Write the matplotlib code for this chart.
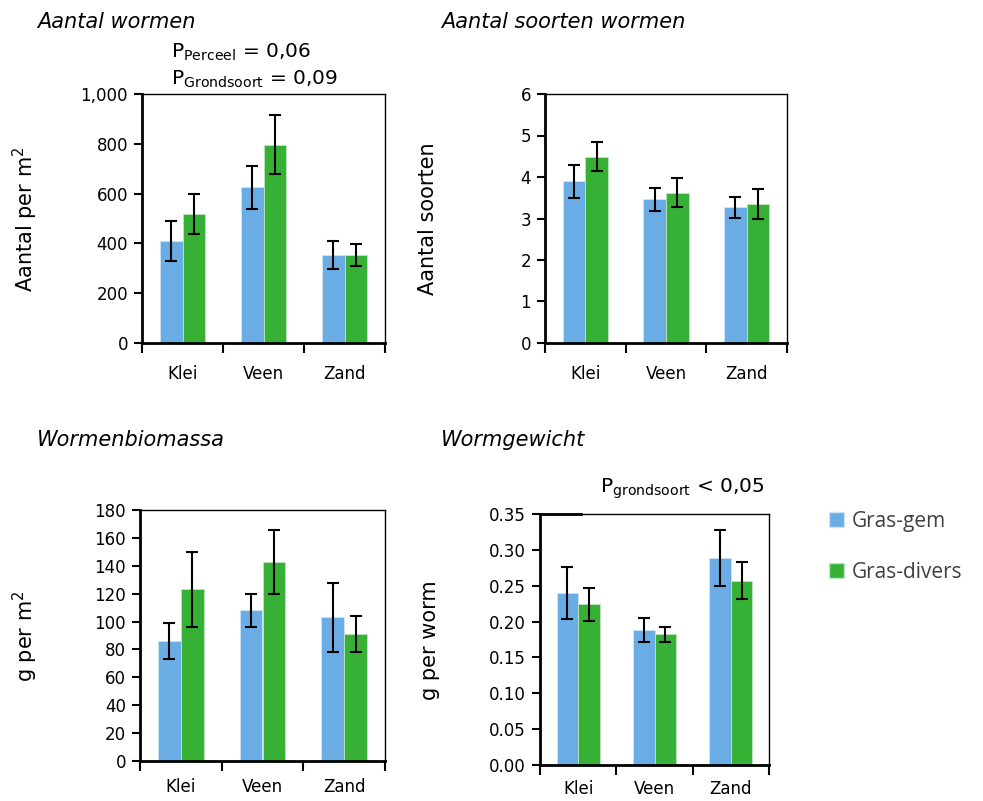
import matplotlib
matplotlib.use("Agg")
import matplotlib.pyplot as plt
from matplotlib.patches import Patch
from matplotlib.ticker import FuncFormatter, FormatStrFormatter
import numpy as np

# data
categories = ["Klei", "Veen", "Zand"]
series = ["Gras-gem", "Gras-divers"]

aantal_gem = [411, 625, 352]
aantal_gem_err = [80, 85, 56]
aantal_div = [519, 797, 352]
aantal_div_err = [81, 118, 44]

soorten_gem = [3.90, 3.46, 3.27]
soorten_gem_err = [0.40, 0.28, 0.26]
soorten_div = [4.49, 3.62, 3.35]
soorten_div_err = [0.35, 0.35, 0.35]

biomassa_gem = [86, 108, 103]
biomassa_gem_err = [13, 12, 25]
biomassa_div = [123, 142.5, 91]
biomassa_div_err = [27, 23, 13]

gewicht_gem = [0.240, 0.188, 0.289]
gewicht_gem_err = [0.036, 0.017, 0.039]
gewicht_div = [0.224, 0.182, 0.257]
gewicht_div_err = [0.023, 0.011, 0.026]

blue = "#6aade4"
green = "#36b136"

W, H = 983, 801
fig = plt.figure(figsize=(W / 100, H / 100), dpi=100)


def px_axes(l, t, r, b):
    return fig.add_axes([l / W, 1 - b / H, (r - l) / W, (b - t) / H])


def panel(ax, gem, gem_err, div, div_err, ymax, ystep, fmt, xpad=16):
    x = np.arange(len(categories))
    w = 0.28
    ekw = dict(ecolor="black", elinewidth=1.5, capsize=4, capthick=1.5)
    ax.bar(x - w / 2, gem, w, yerr=gem_err, color=blue, edgecolor="#cfe3f5",
           linewidth=0.6, error_kw=ekw, zorder=2)
    ax.bar(x + w / 2, div, w, yerr=div_err, color=green, edgecolor="#bfe6bf",
           linewidth=0.6, error_kw=ekw, zorder=2)
    ax.set_xlim(-0.5, 2.5)
    ax.set_ylim(0, ymax)
    ax.set_yticks(np.arange(0, ymax + ystep / 2, ystep))
    ax.yaxis.set_major_formatter(fmt)
    ax.set_xticks([-0.5, 0.5, 1.5, 2.5])
    ax.set_xticklabels([])
    ax.set_xticks(x, minor=True)
    ax.set_xticklabels(categories, minor=True)
    ax.tick_params(axis="x", which="major", length=7, width=1.5, direction="out")
    ax.tick_params(axis="x", which="minor", length=0, pad=xpad, labelsize=12)
    ax.tick_params(axis="y", length=6, width=1.5, labelsize=12, pad=4)
    for s in ["left", "bottom"]:
        ax.spines[s].set_linewidth(2)
    for s in ["top", "right"]:
        ax.spines[s].set_linewidth(1)


comma_fmt = FuncFormatter(lambda v, p: f"{int(v):,}")
int_fmt = FuncFormatter(lambda v, p: f"{int(v)}")

ax1 = px_axes(142, 94, 385, 343)
panel(ax1, aantal_gem, aantal_gem_err, aantal_div, aantal_div_err,
      1000, 200, comma_fmt)

ax2 = px_axes(545, 94, 787, 343)
panel(ax2, soorten_gem, soorten_gem_err, soorten_div, soorten_div_err,
      6, 1, int_fmt)

ax3 = px_axes(140, 510, 385, 761)
panel(ax3, biomassa_gem, biomassa_gem_err, biomassa_div, biomassa_div_err,
      180, 20, int_fmt, xpad=12)

ax4 = px_axes(540, 514, 769, 765)
panel(ax4, gewicht_gem, gewicht_gem_err, gewicht_div, gewicht_div_err,
      0.35, 0.05, FormatStrFormatter("%.2f"), xpad=11)
ax4.plot([0, 0.18], [1, 1], color="black", lw=2, transform=ax4.transAxes,
         clip_on=False, zorder=5)

# y labels
ykw = dict(fontsize=15, rotation=90, ha="center", va="center")
fig.text(25 / W, 1 - 219 / H, "Aantal per m$^2$", **ykw)
fig.text(428 / W, 1 - 219 / H, "Aantal soorten", **ykw)
fig.text(25 / W, 1 - 636 / H, "g per m$^2$", **ykw)
fig.text(430 / W, 1 - 640 / H, "g per worm", **ykw)

# titles
tkw = dict(fontsize=15, style="italic", va="center", ha="left")
fig.text(37 / W, 1 - 22 / H, "Aantal wormen", **tkw)
fig.text(441 / W, 1 - 22 / H, "Aantal soorten wormen", **tkw)
fig.text(37 / W, 1 - 440 / H, "Wormenbiomassa", **tkw)
fig.text(441 / W, 1 - 440 / H, "Wormgewicht", **tkw)

# p-values
pkw = dict(fontsize=14.5, va="center", ha="left")
fig.text(171 / W, 1 - 52 / H, r"P$_{\mathrm{Perceel}}$ = 0,06", **pkw)
fig.text(171 / W, 1 - 79 / H, r"P$_{\mathrm{Grondsoort}}$ = 0,09", **pkw)
fig.text(600 / W, 1 - 489 / H, r"P$_{\mathrm{grondsoort}}$ < 0,05", **pkw)

# legend
handles = [Patch(facecolor=blue, edgecolor="#cfe3f5"),
           Patch(facecolor=green, edgecolor="#bfe6bf")]
leg = fig.legend(handles, series, loc="upper left",
                 bbox_to_anchor=(810 / W, 1 - 492 / H), frameon=False,
                 handlelength=0.75, handleheight=0.75,
                 handletextpad=0.35, labelspacing=1.45,
                 prop={"family": "Open Sans", "size": 15})
for t in leg.get_texts():
    t.set_color("#404040")

plt.savefig("out.png", dpi=100)
